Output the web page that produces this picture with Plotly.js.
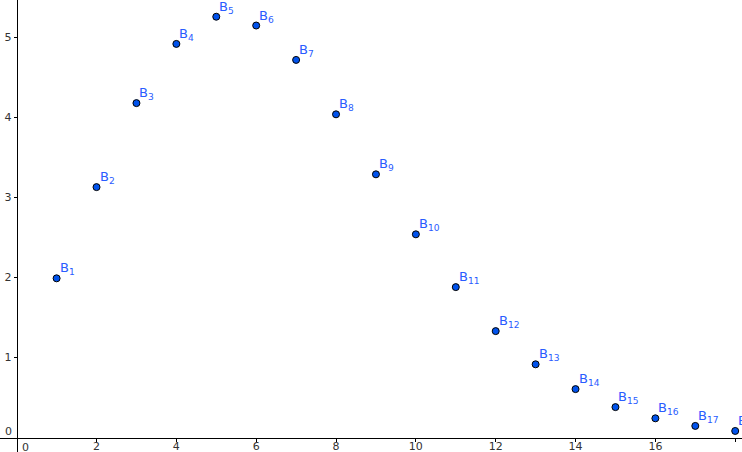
<!DOCTYPE html>
<html>
<head>
<meta charset="utf-8">
<script src="https://cdn.plot.ly/plotly-3.0.1.min.js"></script>
<style>html,body{margin:0;padding:0;background:#fff;}#chart{width:742px;height:452px;}</style>
</head>
<body>
<div id="chart"></div>
<script>
const xs = [1,2,3,4,5,6,7,8,9,10,11,12,13,14,15,16,17,18];
const ys = [1.99,3.13,4.18,4.92,5.26,5.15,4.72,4.04,3.29,2.54,1.88,1.33,0.915,0.605,0.38,0.24,0.145,0.082];
const labels = xs.map(n => 'B<sub>' + n + '</sub>');
const xTicks = [2,4,6,8,10,12,14,16,18];
const yTicks = [1,2,3,4,5];

const xr = [-0.418, 18.17];
const yr = [-0.181, 5.469];

const trace = {
  x: xs, y: ys, mode: 'markers', type: 'scatter',
  marker: {size: 7, color: '#0052ec', line: {color: '#000', width: 1}},
  cliponaxis: false, hoverinfo: 'none'
};

const labelFont = {family: 'DejaVu Sans', size: 13, color: '#2a5cff'};
const pointLabels = xs.map((x, i) => ({
  x: x, y: ys[i], xref: 'x', yref: 'y', text: labels[i], showarrow: false,
  xanchor: 'left', yanchor: 'bottom', xshift: 1, yshift: -1, font: labelFont
}));

const tickFont = {family: 'DejaVu Sans', size: 11, color: '#333'};
const layout = {
  width: 742, height: 452,
  margin: {l: 0, r: 0, t: 0, b: 0, pad: 0},
  paper_bgcolor: '#fff', plot_bgcolor: '#fff',
  showlegend: false,
  font: tickFont,
  xaxis: {
    range: xr, anchor: 'free', position: (0 - yr[0]) / (yr[1] - yr[0]),
    showgrid: false, zeroline: false, showline: true, linecolor: '#000', linewidth: 1,
    ticks: 'outside', ticklen: 3, tickcolor: '#000', tickwidth: 1,
    ticklabelstandoff: -5,
    tickvals: xTicks, ticktext: xTicks.map(String), tickfont: tickFont
  },
  yaxis: {
    range: yr, anchor: 'free', position: (0 - xr[0]) / (xr[1] - xr[0]),
    showgrid: false, zeroline: false, showline: true, linecolor: '#000', linewidth: 1,
    ticks: 'outside', ticklen: 3, tickcolor: '#000', tickwidth: 1,
    tickvals: yTicks, ticktext: yTicks.map(String), tickfont: tickFont
  },
  annotations: [
    {x: 0, y: 0, xref: 'x', yref: 'y', text: '0', showarrow: false, xanchor: 'left', yanchor: 'top', xshift: 3, yshift: -1, font: tickFont},
    {x: 0, y: 0, xref: 'x', yref: 'y', text: '0', showarrow: false, xanchor: 'right', yanchor: 'bottom', xshift: -3, yshift: -2, font: tickFont}
  ].concat(pointLabels)
};

Plotly.newPlot('chart', [trace], layout, {displayModeBar: false, staticPlot: true});
</script>
</body>
</html>
